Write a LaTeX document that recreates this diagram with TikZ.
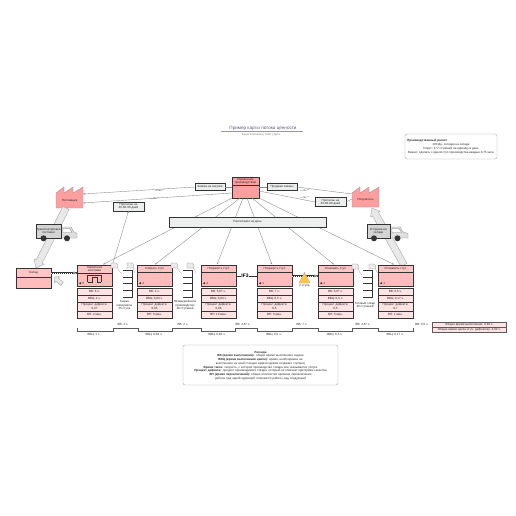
\documentclass[tikz,border=0pt]{standalone}
\usepackage{fontspec}
\setmainfont{Liberation Sans}
\usetikzlibrary{arrows.meta,calc,positioning}
\definecolor{edge}{HTML}{333333}
\definecolor{conn}{HTML}{8C8C8C}
\definecolor{headc}{HTML}{FFC4C4}
\definecolor{bodyc}{HTML}{FFBCBC}
\definecolor{metc}{HTML}{FDE3E3}
\definecolor{facc}{HTML}{FF9E9E}
\definecolor{panel}{HTML}{EDEFEF}
\tikzset{
  tiny/.style={font=\fontsize{3}{3.3}\selectfont,align=center,text=black!85},
  boxx/.style={draw=edge,line width=.8pt,inner sep=0pt,outer sep=0pt,tiny},
  labelbox/.style={boxx,fill=panel},
  hdr/.style={boxx,fill=headc,minimum width=35pt},
  bodybox/.style={boxx,fill=bodyc,minimum width=35pt},
  met/.style={boxx,fill=metc,minimum width=35pt,line width=.6pt},
  conline/.style={draw=conn,line width=.4pt,-{Stealth[length=2.2pt,width=1.6pt]}},
  plain/.style={draw=conn,line width=.4pt},
  wide/.style={draw=black!35,fill=black!9,line width=.4pt,line join=miter},
  truckbox/.style={boxx,fill=black!17,minimum width=25pt,minimum height=14pt},
  rounded panel/.style={draw=black!35,line width=.4pt,rounded corners=2pt,fill=white,inner sep=0pt,outer sep=0pt},
  docu/.style={draw=black!45,fill=black!8,line width=.3pt},
  zz/.style={draw=conn,line width=.3pt},
  pushbg/.style={line width=2pt,draw=edge},
  pushfg/.style={line width=1pt,draw=white,dash pattern=on 1pt off 1pt},
}
% name, left x, title, header bottom y, VV, VVC, defect, VP, op number
\newcommand\procbox[9]{%
  \node[hdr,minimum height=#4pt-265pt,anchor=north west] (#1h) at (#2,265) {#3};
  \node[bodybox,minimum height=286pt-#4pt,anchor=north west] (#1b) at (#2,#4) {};
  \node[circle,fill=black!75,inner sep=0pt,minimum size=2.2pt] (#1op) at ($(#1b.south west)+(3.2,-2.8)$) {};
  \node[tiny,right=.6pt of #1op,inner sep=0pt] (#1n) {#9};
  \node[met,minimum height=7pt,anchor=north west] (#1ma) at (#2,288) {#5};
  \node[met,minimum height=7pt,anchor=north west] (#1mb) at (#2,295) {#6};
  \node[met,minimum height=9pt,anchor=north west,text width=33pt] (#1mc) at (#2,302) {#7};
  \node[met,minimum height=7pt,anchor=north west] (#1md) at (#2,311) {#8};
}
% name, left x
\newcommand\ladder[2]{%
  \coordinate (#1a) at (#2,270);
  \coordinate (#1b) at (#2+9,270);
  \coordinate (#1c) at (#2+9,297);
  \coordinate (#1d) at (#2,297);
  \draw[draw=edge,line width=.8pt] (#1a)--(#1b)--(#1c)--(#1d);
  \foreach \yy in {277,283.5,290}{\draw[draw=edge,line width=.8pt] (#2,\yy)--(#2+9,\yy);}
}
% name, left x, top y
\newcommand\docicon[3]{%
  \draw[docu] (#2,#3) -- ++(5,0) -- ++(1.5,1.5) -- ++(0,3.5) -- ++(-6.5,0) -- cycle;
  \coordinate (#1) at (#2+6.5,#3+5);
}
\begin{document}
\begin{tikzpicture}[x=1pt,y=-1pt]
\useasboundingbox (0,0) rectangle (516,516);
\fill[white] (0,0) rectangle (516,516);

% title
\node[font=\fontsize{4.6}{5}\selectfont,text=black!45!blue!30!gray] (title) at (263,128.3) {Пример карты потока ценности};
\draw[draw=black!40,line width=.5pt] (221,131.3) -- (303,131.3);
\node[font=\fontsize{2.8}{3}\selectfont,text=black!50] (subtitle) at (261,134.6) {Ваша Компания | Сайт | Дата};

% production note
\node[rounded panel,minimum width=92pt,minimum height=25pt,anchor=north west] (note) at (405,134) {};
\node[tiny,anchor=west,inner sep=0pt,font=\fontsize{3}{3.5}\selectfont\bfseries] (notehead) at (407,141) {Производственный расчёт};
\node[tiny,anchor=north,inner sep=0pt,font=\fontsize{3}{4.1}\selectfont] (notebody) at (451,143) {100 Дн. сегодня на складе\\Спрос: 177 ступеней на единицу в день\\Важно: сделать с одной ступ производства каждые 0,75 часа};

% central control and connectors
\node[boxx,fill=facc,minimum width=27pt,minimum height=8pt,anchor=north west] (ctrlh) at (232,177) {Управление\\производством};
\node[boxx,fill=facc,minimum width=27pt,minimum height=13pt,anchor=north west] (ctrlb) at (232,185) {};

% factories
\node[fill=facc,inner sep=0pt,outer sep=0pt,minimum width=27pt,minimum height=15pt,anchor=north west] (facl) at (56,193) {};
\draw[draw=black!40,fill=facc,line width=.4pt] (56,208)--(56,193)--(64,187)--(64,193)--(73,187)--(73,193)--(83,187)--(83,208)--cycle;
\node[tiny] (facltxt) at (facl) {Поставщик};
\node[fill=facc,inner sep=0pt,outer sep=0pt,minimum width=27pt,minimum height=14pt,anchor=north west] (facr) at (352,193) {};
\draw[draw=black!40,fill=facc,line width=.4pt] (352,207)--(352,193)--(360,187)--(360,193)--(369,187)--(369,193)--(379,187)--(379,207)--cycle;
\node[tiny] (facrtxt) at (facr) {Покупатель};

% label boxes
\node[labelbox,minimum width=30pt,minimum height=6.5pt] (ordl) at (210,187) {Заявка на закупки};
\node[labelbox,minimum width=30pt,minimum height=6.5pt] (ordr) at (282,187) {Продажи заказы};
\node[labelbox,minimum width=31pt,minimum height=9pt] (fcl) at (128.5,206.5) {Прогнозы на\\30-60-90 дней};
\node[labelbox,minimum width=31pt,minimum height=9.5pt] (fcr) at (330.5,202) {Прогнозы на\\30-60-90 дней};

% coordinates of connector ends
\coordinate (cs1) at (232,198);\coordinate (cs2) at (240,198);\coordinate (cs3) at (243,198);
\coordinate (cs4) at (247,198);\coordinate (cs5) at (252,198);\coordinate (cs6) at (259,198);
\coordinate (facl1) at (83,194);\coordinate (facl2) at (83,203);
\coordinate (facr1) at (352,194);\coordinate (facr2) at (352,199);
\coordinate (ctl) at (232,193);\coordinate (ctr) at (259,191);
\coordinate (t1) at (103,264.5);\coordinate (t2) at (155,264.5);\coordinate (t3) at (217,264.5);
\coordinate (t4) at (272,264.5);\coordinate (t5) at (334,264.5);\coordinate (t6) at (394,264.5);

% information lines
\draw[conline] (ordl.west) -- (facl1);
\draw[conline] (ctl) -- (facl2);
\draw[plain] (ctrlh.west|-ordl) -- (ordl.east);
\draw[plain] (ctrlh.east|-ordr) -- (ordr.west);
\draw[plain] (ordr.east) -- (facr1);
\draw[plain] (ctr) -- (fcr.west);
\draw[plain] (fcr.east) -- (facr2);
\draw[conline] (113,263) -- (fcl.south);
\draw[zz] (155,190.6)--(160,189.6)--(159,190.6)--(164,189.6);
\draw[zz] (150,198.6)--(155,197.6)--(154,198.6)--(159,197.6);
\draw[zz] (300,190.6)--(305,189.6)--(304,190.6)--(309,189.6);
\draw[zz] (300,197.6)--(305,196.6)--(304,197.6)--(309,196.6);

\draw[conline] (cs1)--(t1);
\draw[conline] (cs2)--(t2);
\draw[conline] (cs3)--(t3);
\draw[conline] (cs4)--(t4);
\draw[conline] (cs5)--(t5);
\draw[conline] (cs6)--(t6);

% planning bar over the lines
\node[boxx,fill=panel,minimum width=157pt,minimum height=10pt,anchor=north west] (plan) at (169,217) {Расписание на день};

% wide arrows and trucks
\draw[wide] (69.1,209.6)--(42.2,263.3)--(44,264.2)--(36,268)--(34.2,259.2)--(36,260.1)--(62.9,206.4)--cycle;
\draw[wide] (407,263.3)--(378.5,212.4)--(380.2,211.4)--(372,208)--(370.6,216.8)--(372.4,215.8)--(401,266.7)--cycle;
\draw[wide] (63.3,282.5)--(58.3,278.1)--(59.6,276.6)--(54,277)--(54.4,282.6)--(55.7,281.1)--(60.7,285.5)--cycle;

\draw[draw=black!40,fill=black!13,line width=.4pt] (61,227)--(71,227)--(74,232)--(77,233.5)--(77,238)--(61,238)--cycle;
\draw[draw=black!50,fill=white,line width=.3pt] (63,228.5)--(69.5,228.5)--(72,232.5)--(63,232.5)--cycle;
\node[truckbox,anchor=north west] (trl) at (36,224) {Транспортировка\\поставки};
\fill[edge] (43.5,238.3) circle (3pt) (67,238.3) circle (3pt);
\draw[draw=black!40,fill=black!13,line width=.4pt] (390,227)--(400,227)--(403,232)--(408,233.5)--(408,238)--(390,238)--cycle;
\draw[draw=black!50,fill=white,line width=.3pt] (392,228.5)--(399,228.5)--(401.5,232.5)--(392,232.5)--cycle;
\node[truckbox,minimum width=23pt,anchor=north west] (trr) at (367,224) {Отгрузка на\\складе};
\fill[edge] (374,238.3) circle (3pt) (397.5,238.3) circle (3pt);

% storage
\node[boxx,fill=headc,minimum width=35pt,minimum height=9pt,anchor=north west] (stoh) at (16,268) {Склад};
\node[boxx,fill=bodyc,minimum width=35pt,minimum height=11pt,anchor=north west] (stob) at (16,277) {};

% processes
\procbox{pa}{77}{Первичная\\заготовка}{273}{ВВ: 6 ч.}{ВВЦ: 2 ч.}{Процент дефекта:\\0,07}{ВП: 2 мин.}{5}
\procbox{pb}{137}{Собрать стул}{272}{ВВ: 2 ч.}{ВВЦ: 0,83 ч.}{Процент дефекта:\\0,05}{ВП: 5 мин.}{4}
\procbox{pc}{201}{Покрасить стул}{272}{ВВ: 5,67 ч.}{ВВЦ: 0,83 ч.}{Процент дефекта:\\0,08}{ВП: 10 мин.}{4}
\procbox{pd}{257}{Покрасить стул}{272}{ВВ: 7 ч.}{ВВЦ: 0,5 ч.}{Процент дефекта:\\0,5}{ВП: 5 мин.}{1}
\procbox{pe}{318}{Упаковать стул}{272}{ВВ: 5,67 ч.}{ВВЦ: 0,5 ч.}{Процент дефекта:\\0,5}{ВП: 5 мин.}{4}
\procbox{pf}{378}{Отправить стул}{272}{ВВ: 0,5 ч.}{ВВЦ: 0,17 ч.}{Процент дефекта:\\0,7}{ВП: 1 мин.}{1}

% kanban-like icon in first process
\draw[draw=edge,line width=.8pt] (87.5,282)--(92,282)--(92,277)--(97,277)--(97,282)--(101,282);
\draw[draw=edge,line width=.8pt] (87.5,282)--(87.5,275)--(101,275)--(101,282);

% push arrows
\draw[pushbg] (stoh.east|-pah.south) -- (pah.west|-pah.south);
\draw[pushfg] (stoh.east|-pah.south) -- (pah.west|-pah.south);
\fill[conn] (73,271.5)--(77,273)--(73,274.5)--cycle;
\draw[pushbg] (pdb.east|-0,276) -- (peb.west|-0,276);
\draw[pushfg] (pdb.east|-0,276) -- (peb.west|-0,276);
\fill[conn] (314,274.5)--(318,276)--(314,277.5)--cycle;
\draw[draw=edge,line width=1pt] (pcb.east|-0,276) -- (pdb.west|-0,276);
\node[fill=white,inner sep=.4pt,font=\fontsize{5}{5}\selectfont\bfseries] (fifo) at (245,276) {IF3};

% inventory triangle
\draw[draw=black!35,fill=orange!60!yellow!75,line width=.3pt] (304.5,272.5)--(310,283)--(299,283)--cycle;
\node[tiny] (invlbl) at (304.5,286) {2 ступа};

% ladders
\ladder{la}{123}
\ladder{lb}{183}
\ladder{lc}{363}
\node[tiny,anchor=north,inner sep=0pt] (lala) at (124.5,300.5) {Сырьё\\материалы\\25 ступе};
\node[tiny,anchor=north,inner sep=0pt] (lalb) at (185,300.5) {Незавершённое\\производство\\30 ступеней};
\node[tiny,anchor=north,inner sep=0pt] (lalc) at (365,302) {Готовый товар\\20 ступеней};

% document icons
\docicon{da}{111}{263}\docicon{db}{127}{263}
\docicon{dc}{171}{263}\docicon{dd}{187}{263}
\docicon{de}{352}{264}\docicon{df}{369}{264}
\draw[draw=black!30,line width=.3pt] (da) .. controls (118,270) and (120,272) .. (122,274);
\draw[draw=black!30,line width=.3pt] (db) .. controls (133,270) and (134,271) .. (135,273);
\draw[draw=black!30,line width=.3pt] (dc) .. controls (178,270) and (180,272) .. (182,274);
\draw[draw=black!30,line width=.3pt] (dd) .. controls (194,270) and (195,271) .. (196,273);
\draw[draw=black!30,line width=.3pt] (de) .. controls (359,272) and (360,273) .. (362,275);
\draw[draw=black!30,line width=.3pt] (df) .. controls (376,271) and (377,272) .. (378,273);

% timeline
\draw[draw=black!65,line width=.6pt] (77,328)--(77,331)--(113,331)--(113,328)--(138,328)--(138,331)--(172,331)--(172,328)--(201,328)--(201,331)--(235,331)--(235,328)--(257,328)--(257,331)--(292,331)--(292,328)--(318,328)--(318,331)--(352,331)--(352,328)--(378,328)--(378,331)--(413,331)--(413,328);
\node[tiny] (u1) at (123,324.5) {ВВ: 4 ч.};
\node[tiny] (u2) at (183,324.5) {ВВ: 2 ч.};
\node[tiny] (u3) at (243,324.5) {ВВ: 4,67 ч.};
\node[tiny] (u4) at (302,324.5) {ВВ: 7 ч.};
\node[tiny] (u5) at (363,324.5) {ВВ: 4,67 ч.};
\node[tiny] (u6) at (422,324.5) {ВВ: 0,5 ч.};
\node[tiny] (d1) at (94,335) {ВВЦ: 1 ч.};
\node[tiny] (d2) at (154,335) {ВВЦ: 0,83 ч.};
\node[tiny] (d3) at (217,335) {ВВЦ: 0,83 ч.};
\node[tiny] (d4) at (274,335) {ВВЦ: 0,5 ч.};
\node[tiny] (d5) at (335,335) {ВВЦ: 0,5 ч.};
\node[tiny] (d6) at (395,335) {ВВЦ: 0,17 ч.};

% summary
\node[draw=black!65,fill=metc,line width=.5pt,inner sep=0pt,tiny,minimum width=74pt,minimum height=5pt,anchor=north west] (suma) at (432,322) {Общее время выполнения: 0,84 ч.};
\node[draw=black!65,fill=metc,line width=.5pt,inner sep=0pt,tiny,minimum width=74pt,minimum height=5pt,anchor=north west] (sumb) at (432,327) {Общее время цикла (с уч. дефектов): 3,92 ч.};

% legend
\node[rounded panel,minimum width=155pt,minimum height=40pt,anchor=north west] (legend) at (183,345) {};
\node[tiny,inner sep=0pt,font=\fontsize{3}{3.7}\selectfont,text width=148pt,anchor=north] (legtext) at (260.5,351) {\textbf{Легенда}\\\textbf{ВВ (время выполнения):} общее время выполнения задачи\\\textbf{ВВЦ (время выполнения цикла):} время, необходимое на выполнение на всей станции задачи (время создания ступени)\\\textbf{Время такта:} скорость, с которой производство товара или оказывается услуга\\\textbf{Процент дефекта:} процент производимого товара, который не отвечает критериям качества\\\textbf{ВП (время переключений):} общее количество времени переключения работы над одной единицей отличается работы над следующей};
\end{tikzpicture}
\end{document}
